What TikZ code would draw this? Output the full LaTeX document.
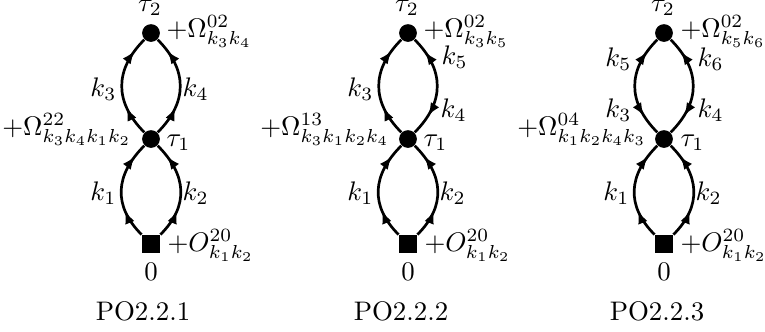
\documentclass[tikz,border=0pt]{standalone}
\usetikzlibrary{arrows.meta,decorations.markings}
\tikzset{
  vtx/.style={circle,fill,inner sep=0pt,minimum size=6.6pt},
  sqv/.style={rectangle,fill,inner sep=0pt,minimum size=6.6pt},
  lbl/.style={inner sep=0pt},
  edge/.style={line width=1pt},
  tipa/.tip={Latex[length=4.9pt,width=3.7pt]},
  upup/.style={postaction={decorate},decoration={markings,
    mark=at position 0.29 with {\arrow{tipa}},
    mark=at position 0.86 with {\arrow{tipa}}}},
  outw/.style={postaction={decorate},decoration={markings,
    mark=at position 0.2 with {\arrowreversed{tipa}},
    mark=at position 0.85 with {\arrow{tipa}}}},
  lft/.style={out=135,in=-135,looseness=1.18},
  rgt/.style={out=45,in=-45,looseness=1.18},
}
\begin{document}
\begin{tikzpicture}[x=0.3725pt,y=-0.3725pt]
\useasboundingbox (0,0) rectangle (765,331);
% ---------- diagram 1 ----------
\node[vtx] (a2) at (151,33) {};
\node[vtx] (a1) at (151,139) {};
\node[sqv] (a0) at (151,244) {};
\node[lbl,anchor=base] (a2t) at (150,11) {$\tau_2$};
\node[lbl,anchor=base west] (a2o) at (166,37) {$+\Omega^{02}_{k_3k_4}$};
\node[lbl,anchor=base west] (a1t) at (166,146) {$\tau_1$};
\node[lbl,anchor=base east] (a1o) at (132,135) {$+\Omega^{22}_{k_3k_4k_1k_2}$};
\node[lbl,anchor=base west] (a0o) at (167,251) {$+O^{20}_{k_1k_2}$};
\node[lbl,anchor=base] (a0t) at (151,280) {$0$};
\node[lbl,anchor=base] (acap) at (143,320) {PO2.2.1};
\draw[edge,upup] (a0) to[lft] (a1);
\draw[edge,upup] (a0) to[rgt] (a1);
\draw[edge,upup] (a1) to[lft] (a2);
\draw[edge,upup] (a1) to[rgt] (a2);
\node[lbl,anchor=base east] (ak1) at (117,200) {$k_1$};
\node[lbl,anchor=base west] (ak2) at (182,200) {$k_2$};
\node[lbl,anchor=base east] (ak3) at (117,96) {$k_3$};
\node[lbl,anchor=base west] (ak4) at (182,96) {$k_4$};
% ---------- diagram 2 ----------
\node[vtx] (b2) at (408,33) {};
\node[vtx] (b1) at (408,139) {};
\node[sqv] (b0) at (408,244) {};
\node[lbl,anchor=base] (b2t) at (407,11) {$\tau_2$};
\node[lbl,anchor=base west] (b2o) at (423,37) {$+\Omega^{02}_{k_3k_5}$};
\node[lbl,anchor=base west] (b1t) at (423,146) {$\tau_1$};
\node[lbl,anchor=base east] (b1o) at (390,135) {$+\Omega^{13}_{k_3k_1k_2k_4}$};
\node[lbl,anchor=base west] (b0o) at (424,251) {$+O^{20}_{k_1k_2}$};
\node[lbl,anchor=base] (b0t) at (408,280) {$0$};
\node[lbl,anchor=base] (bcap) at (401,320) {PO2.2.2};
\draw[edge,upup] (b0) to[lft] (b1);
\draw[edge,upup] (b0) to[rgt] (b1);
\draw[edge,upup] (b1) to[lft] (b2);
\draw[edge,outw] (b1) to[rgt] (b2);
\node[lbl,anchor=base east] (bk1) at (374,200) {$k_1$};
\node[lbl,anchor=base west] (bk2) at (439,200) {$k_2$};
\node[lbl,anchor=base east] (bk3) at (374,96) {$k_3$};
\node[lbl,anchor=base west] (bk5) at (441,64) {$k_5$};
\node[lbl,anchor=base west] (bk4) at (440,117) {$k_4$};
% ---------- diagram 3 ----------
\node[vtx] (c2) at (664,33) {};
\node[vtx] (c1) at (664,139) {};
\node[sqv] (c0) at (664,244) {};
\node[lbl,anchor=base] (c2t) at (663,11) {$\tau_2$};
\node[lbl,anchor=base west] (c2o) at (680,37) {$+\Omega^{02}_{k_5k_6}$};
\node[lbl,anchor=base west] (c1t) at (680,146) {$\tau_1$};
\node[lbl,anchor=base east] (c1o) at (647,135) {$+\Omega^{04}_{k_1k_2k_4k_3}$};
\node[lbl,anchor=base west] (c0o) at (680,251) {$+O^{20}_{k_1k_2}$};
\node[lbl,anchor=base] (c0t) at (664,280) {$0$};
\node[lbl,anchor=base] (ccap) at (657,320) {PO2.2.3};
\draw[edge,upup] (c0) to[lft] (c1);
\draw[edge,upup] (c0) to[rgt] (c1);
\draw[edge,outw] (c1) to[lft] (c2);
\draw[edge,outw] (c1) to[rgt] (c2);
\node[lbl,anchor=base east] (ck1) at (630,200) {$k_1$};
\node[lbl,anchor=base west] (ck2) at (695,200) {$k_2$};
\node[lbl,anchor=base east] (ck5) at (632,66) {$k_5$};
\node[lbl,anchor=base west] (ck6) at (697,66) {$k_6$};
\node[lbl,anchor=base east] (ck3) at (632,117) {$k_3$};
\node[lbl,anchor=base west] (ck4) at (697,117) {$k_4$};
\end{tikzpicture}
\end{document}
